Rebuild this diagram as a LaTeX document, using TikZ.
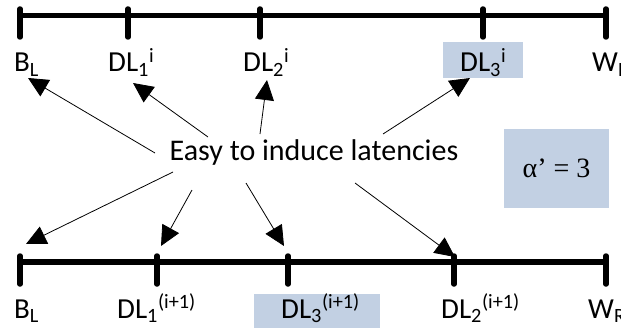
\documentclass[tikz,border=0pt]{standalone}
\usepackage{fontspec}
\setmainfont{Carlito}
\newfontfamily\tmsfont{Liberation Serif}
\usetikzlibrary{arrows.meta}
\definecolor{boxblue}{RGB}{194,208,227}
\begin{document}
\begin{tikzpicture}[x=1pt,y=-1pt,
  axisline/.style={line width=5.5pt,line cap=round},
  tickmark/.style={line width=5.5pt,line cap=round},
  lbl/.style={anchor=base west,inner sep=0pt,font=\fontsize{29}{31}\selectfont},
  hilite/.style={fill=boxblue,draw=none},
  pointer/.style={line width=0.8pt,-{Triangle[length=20pt,width=19pt]}}]
\useasboundingbox (0,0) rectangle (621,329);
\clip (0,0) rectangle (621,329);
\fill[white] (0,0) rectangle (621,329);

% highlight boxes
\fill[hilite] (443,42) rectangle (523,78);
\fill[hilite] (254,294) rectangle (380,328);
\node[hilite,minimum width=105pt,minimum height=79pt,inner sep=0pt] (alpha) at (556.5,168.5)
  {\tmsfont\fontsize{28}{30}\selectfont α’ = 3};

% upper scale
\draw[axisline] (20,15.5) -- (606,15.5);
\foreach \x in {20,128,260,483,606} \draw[tickmark] (\x,9) -- (\x,37);
\node[lbl] (bl1) at (14,72) {B\textsubscript{L}};
\node[lbl] (dl11) at (108,72) {DL\textsubscript{1}\textsuperscript{i}};
\node[lbl] (dl21) at (243,72) {DL\textsubscript{2}\textsuperscript{i}};
\node[lbl] (dl31) at (460,72) {DL\textsubscript{3}\textsuperscript{i}};
\node[lbl] (wr1) at (592,72) {W\textsubscript{R}};

% lower scale
\draw[axisline] (20,262) -- (606,262);
\foreach \x in {20,157,288,454,606} \draw[tickmark] (\x,256) -- (\x,284);
\node[lbl] (bl2) at (14,318) {B\textsubscript{L}};
\node[lbl] (dl12) at (117,318) {DL\textsubscript{1}\textsuperscript{(i+1)}};
\node[lbl] (dl32) at (281,318) {DL\textsubscript{3}\textsuperscript{(i+1)}};
\node[lbl] (dl22) at (441,318) {DL\textsubscript{2}\textsuperscript{(i+1)}};
\node[lbl] (wr2) at (588,318) {W\textsubscript{R}};

% caption in the middle
\node[inner sep=0pt,font=\fontsize{30}{32}\selectfont] (easy) at (314,153) {Easy to induce latencies};

% arrow ends
\coordinate (t1) at (155,153);  \coordinate (h1) at (28,78);
\coordinate (t2) at (208,137);  \coordinate (h2) at (133,83);
\coordinate (t3) at (260,134);  \coordinate (h3) at (267,80);
\coordinate (t4) at (383,134);  \coordinate (h4) at (470,78);
\coordinate (t5) at (173,172);  \coordinate (h5) at (26,244);
\coordinate (t6) at (192,190);  \coordinate (h6) at (161,246);
\coordinate (t7) at (246,183);  \coordinate (h7) at (284,246);
\coordinate (t8) at (355,183);  \coordinate (h8) at (455,257);
\foreach \i in {1,...,8} \draw[pointer] (t\i) -- (h\i);
\end{tikzpicture}
\end{document}
